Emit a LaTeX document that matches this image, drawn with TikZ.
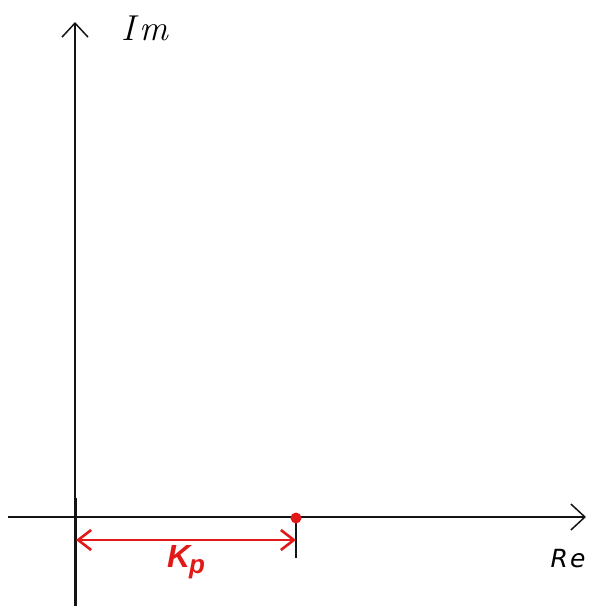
\documentclass[tikz,border=0pt]{standalone}
\usepackage{fontspec}
\newfontfamily\handsans{DejaVu Sans}
\newfontfamily\boldsans{Liberation Sans}
\usetikzlibrary{arrows.meta}
\definecolor{pen}{RGB}{20,20,20}
\definecolor{redpen}{RGB}{225,25,25}
\tikzset{
  axis/.style={draw=pen, line width=1.5pt, -{Straight Barb[length=14pt,width=26pt,line width=1.5pt]}},
  dim/.style={draw=redpen, line width=2.6pt, {Straight Barb[length=13pt,width=20pt,line width=2.6pt]}-{Straight Barb[length=13pt,width=20pt,line width=2.6pt]}},
  lbl/.style={inner sep=0pt}
}
\begin{document}
\begin{tikzpicture}[x=1pt,y=-1pt]
\useasboundingbox (0,0) rectangle (598,606);
\coordinate (ybot) at (75,606);
\coordinate (ytop) at (75,22);
\coordinate (xl) at (8,517);
\coordinate (xr) at (586,517);
\coordinate (thick) at (75,498);
\coordinate (o) at (76,540);
\coordinate (kp) at (296,540);
\coordinate (ticktop) at (296,517);
\coordinate (tickbot) at (296,558);
\draw[axis] (ybot) -- (ytop);
\draw[draw=pen, line width=3pt] (thick) -- (ybot);
\draw[axis] (xl) -- (xr);
\draw[draw=pen, line width=1.8pt] (ticktop) -- (tickbot);
\draw[dim] (o) -- (kp);
\node[circle, fill=redpen, minimum size=11pt, inner sep=0pt] (dot) at (296,518) {};
\node[lbl, font=\fontsize{36}{36}\selectfont\itshape] (im) at (145,28) {I\kern5pt m};
\node[lbl, font=\handsans\fontsize{25}{25}\selectfont\itshape] (re) at (568,559) {R\kern2pt e};
\node[lbl, text=redpen, font=\boldsans\fontsize{32}{32}\selectfont\bfseries\itshape] (k) at (186,562) {K\kern-1pt\raisebox{-6pt}{\fontsize{26}{26}\selectfont p}};
\end{tikzpicture}
\end{document}
